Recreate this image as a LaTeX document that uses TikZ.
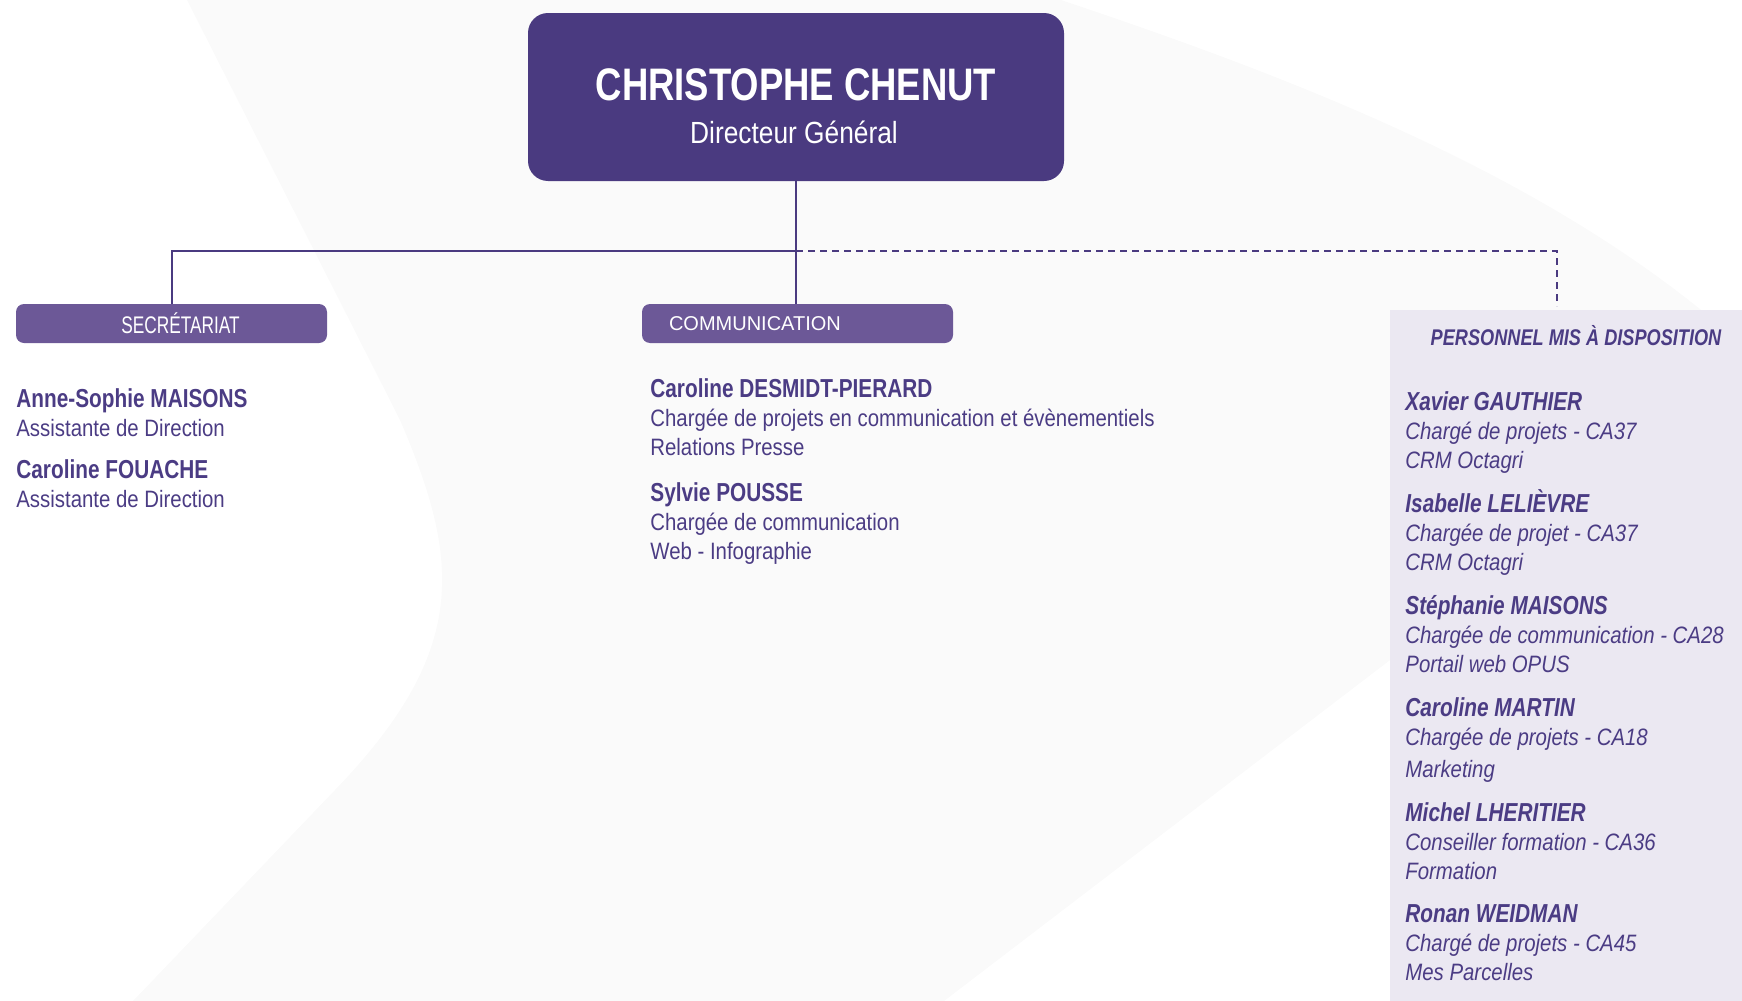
\documentclass[tikz,border=0pt]{standalone}
\usepackage{fontspec}
\usepackage{tikz}
\usetikzlibrary{positioning}
\setmainfont{Liberation Sans}
\newfontfamily\condreg[FakeStretch=0.86]{Liberation Sans}
\newfontfamily\condnarrow[FakeStretch=0.72]{Liberation Sans}
\newfontfamily\condbf[FakeStretch=0.80]{Liberation Sans}
\definecolor{darkviolet}{HTML}{4A3A80}
\definecolor{midviolet}{HTML}{6C5897}
\definecolor{inkviolet}{HTML}{4B3C84}
\definecolor{paleviolet}{HTML}{EBE8F2}
\definecolor{bggray}{HTML}{FAFAFA}
\newcommand{\pname}[1]{{\condbf\bfseries\fontsize{13pt}{14.5pt}\selectfont #1}}

\begin{document}
\begin{tikzpicture}[x=0.5pt, y=-0.5pt,
    ceobox/.style={fill=darkviolet, rounded corners=10pt, minimum width=268pt, minimum height=84pt, inner sep=0pt},
    secbox/.style={fill=midviolet, rounded corners=4pt, minimum width=155.5pt, minimum height=19.5pt, inner sep=0pt, text=white},
    panel/.style={fill=paleviolet, minimum width=176pt, minimum height=345.5pt, inner sep=0pt},
    link/.style={draw=darkviolet, line width=1pt},
    dashlink/.style={draw=darkviolet, line width=0.75pt, dash pattern=on 3.5pt off 2.5pt},
    person/.style={anchor=base west, align=left, inner sep=0pt, text=inkviolet, font=\condreg\fontsize{11.85pt}{14.5pt}\selectfont},
    extperson/.style={person, font=\condreg\itshape\fontsize{11.85pt}{14.5pt}\selectfont}]
    \useasboundingbox (0,0) rectangle (1742,1001);

    % background shape
    \fill[bggray] (187,0) -- (1061,0) .. controls (1300,80) and (1560,180) .. (1742,345)
        -- (1742,391) -- (944,1001) -- (133,1001) -- (335,790)
        .. controls (470,650) and (460,560) .. (400,420) -- cycle;

    % boxes
    \node[panel] (panel) at (1566,655.5) {};
    \node[ceobox] (ceo) at (796,97) {};
    \node[anchor=base, text=white, font=\condbf\bfseries\fontsize{22.8pt}{26pt}\selectfont] (ceoname) at (796,100) {CHRISTOPHE CHENUT};
    \node[anchor=base, text=white, font=\condreg\fontsize{15.3pt}{18pt}\selectfont] (ceorole) at (794,143) {Directeur Général};

    \node[secbox, font=\condnarrow\fontsize{12pt}{14pt}\selectfont] (secr) at (171.5,323.5) {\hspace*{9pt}SECRÉTARIAT};
    \node[secbox, text width=128.5pt, inner xsep=13.5pt, align=left, font=\fontsize{10pt}{12pt}\selectfont] (comm) at (797.5,323.5) {COMMUNICATION};
    \node[anchor=base, text=inkviolet, font=\condbf\bfseries\itshape\fontsize{11.35pt}{13pt}\selectfont] (pmdtitle) at (1576,345) {PERSONNEL MIS À DISPOSITION};

    % connectors
    \coordinate (fork) at (797,251);
    \coordinate (pmdtop) at (1557,306);
    \draw[link] (ceo.south) -- (ceo.south |- comm.north);
    \draw[link] (ceo.south |- fork) -| (secr.north);
    \draw[dashlink] (ceo.south |- fork) -| (pmdtop);

    % secretariat (placed at the baseline of the last line)
    \node[person] (asm) at (16,436) {\pname{Anne-Sophie MAISONS}\\Assistante de Direction};
    \node[person] (cfo) at (16,507) {\pname{Caroline FOUACHE}\\Assistante de Direction};

    % communication
    \node[person] (cdp) at (650,455) {\pname{Caroline DESMIDT-PIERARD}\\Chargée de projets en communication et évènementiels\\Relations Presse};
    \node[person] (spo) at (650,559) {\pname{Sylvie POUSSE}\\Chargée de communication\\Web - Infographie};

    % personnel mis a disposition
    \node[extperson] (xga) at (1405,468) {\pname{Xavier GAUTHIER}\\Chargé de projets - CA37\\CRM Octagri};
    \node[extperson] (ile) at (1405,570) {\pname{Isabelle LELIÈVRE}\\Chargée de projet - CA37\\CRM Octagri};
    \node[extperson] (sma) at (1405,672) {\pname{Stéphanie MAISONS}\\Chargée de communication - CA28\\Portail web OPUS};
    \node[extperson] (cma) at (1405,777) {\pname{Caroline MARTIN}\\Chargée de projets - CA18\\[1.5pt]Marketing};
    \node[extperson] (mlh) at (1405,879) {\pname{Michel LHERITIER}\\Conseiller formation - CA36\\Formation};
    \node[extperson] (rwe) at (1405,980) {\pname{Ronan WEIDMAN}\\Chargé de projets - CA45\\Mes Parcelles};
\end{tikzpicture}
\end{document}
